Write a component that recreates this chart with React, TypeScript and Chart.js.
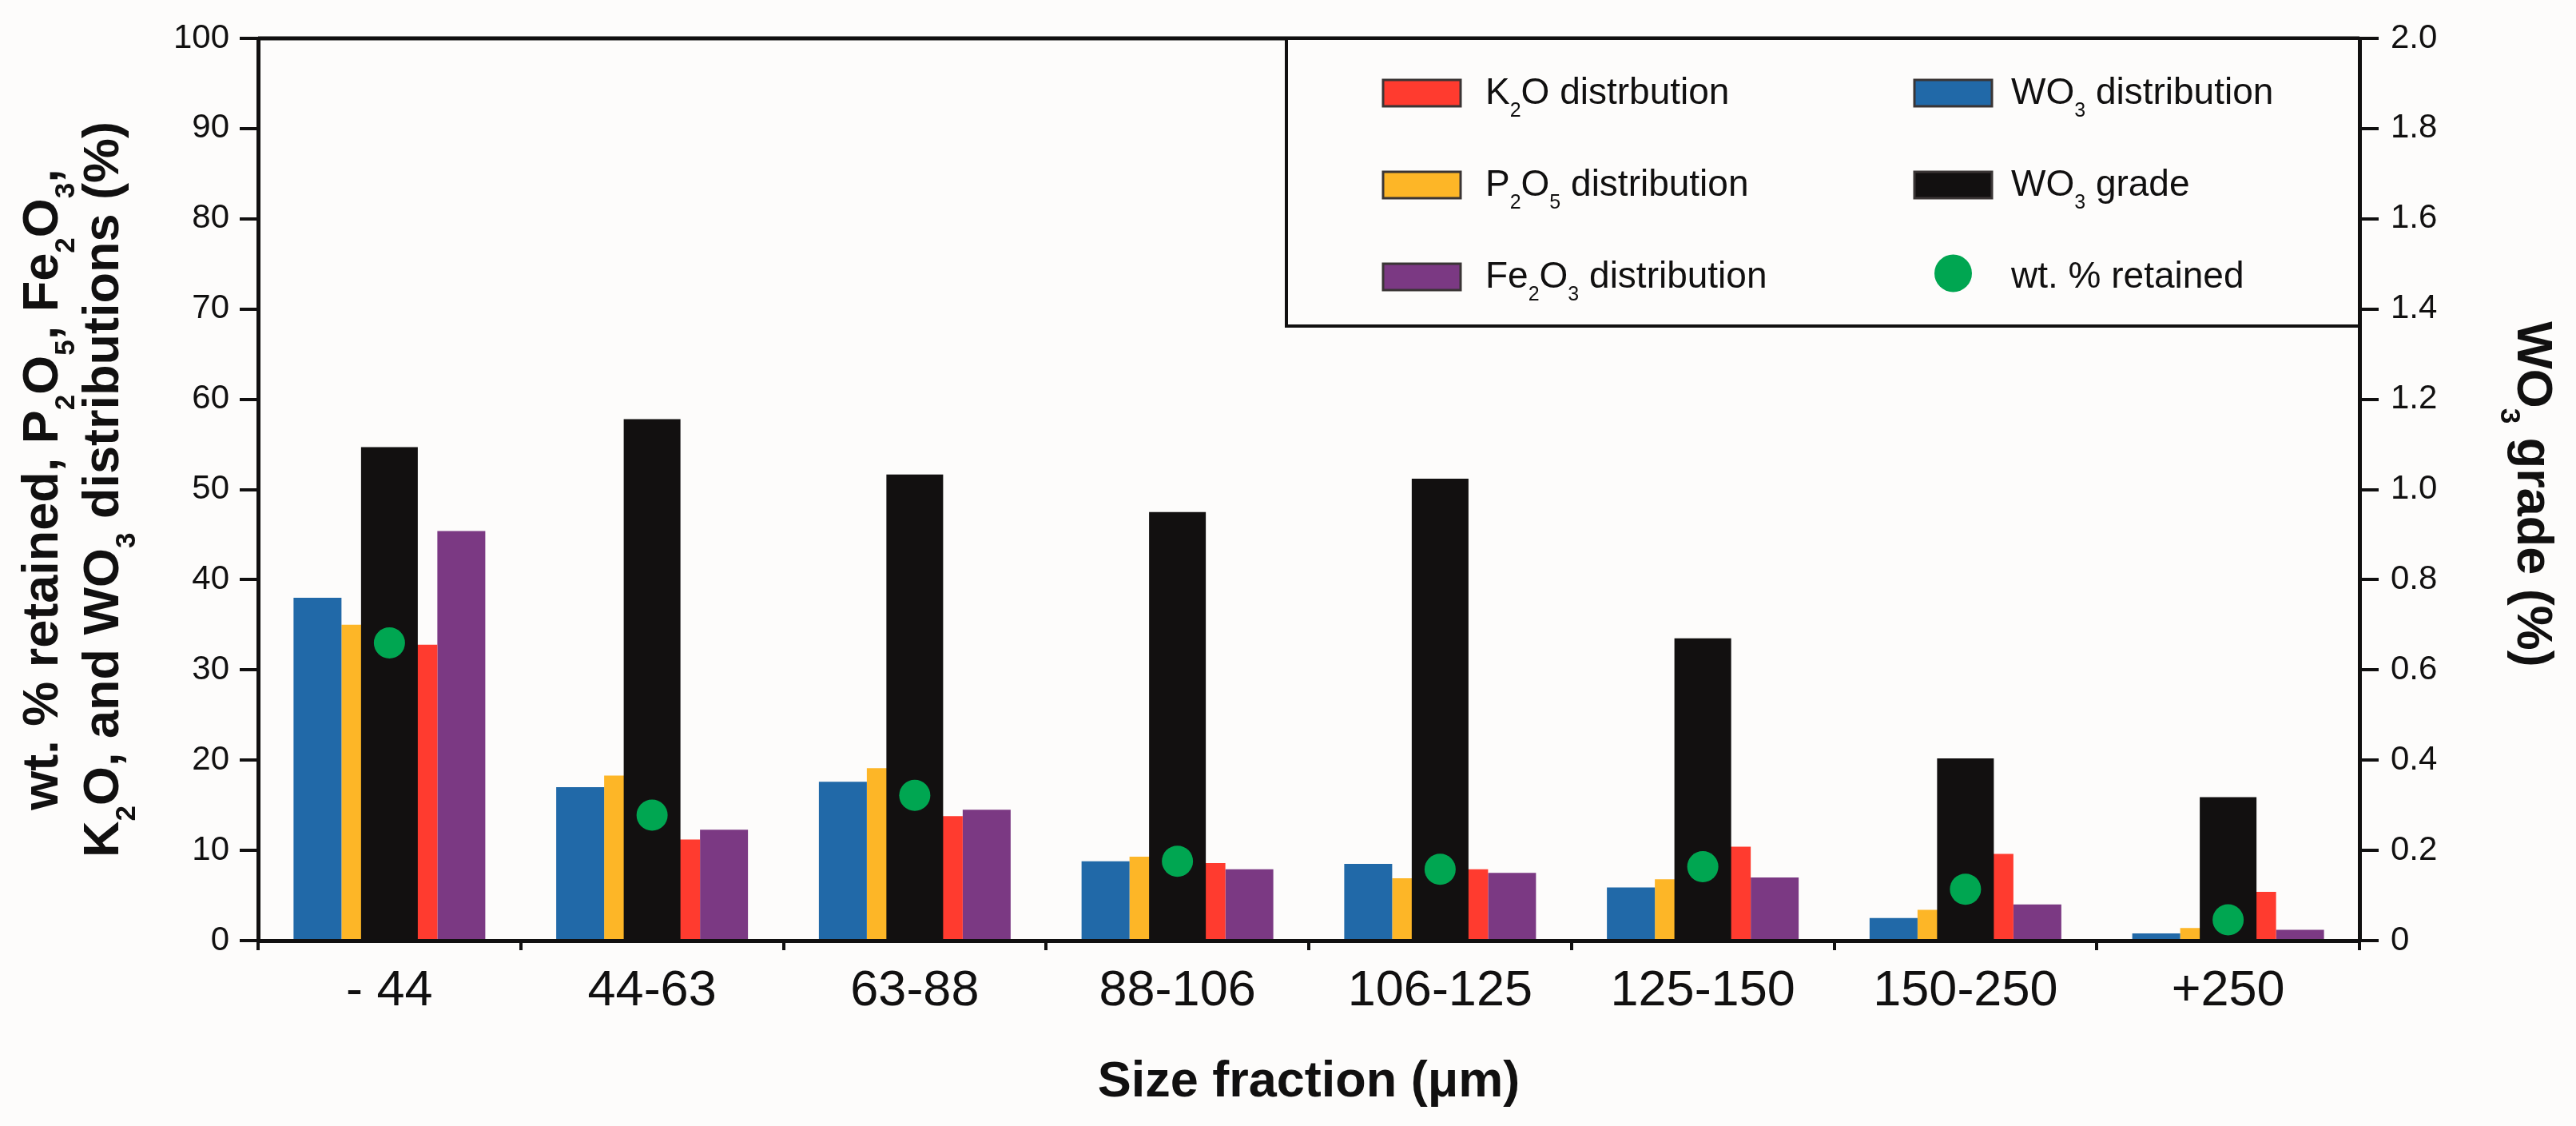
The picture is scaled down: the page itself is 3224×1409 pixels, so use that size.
import { useEffect, useRef } from 'react';
import { Chart, registerables } from 'chart.js';

Chart.register(...registerables);

// size fractions (µm) on the x axis
const sizeFractions = ['- 44', '44-63', '63-88', '88-106', '106-125', '125-150', '150-250', '+250'];

// left axis: distributions and wt. % retained (%)
const wo3Distribution = [38.0, 17.0, 17.6, 8.8, 8.5, 5.9, 2.5, 0.8];
const p2o5Distribution = [35.0, 18.3, 19.1, 9.3, 6.9, 6.8, 3.4, 1.4];
const k2oDistribution = [32.8, 11.2, 13.8, 8.6, 7.9, 10.4, 9.6, 5.4];
const fe2o3Distribution = [45.4, 12.3, 14.5, 7.9, 7.5, 7.0, 4.0, 1.2];
const wtRetained = [33.0, 13.9, 16.1, 8.8, 7.9, 8.2, 5.7, 2.3];

// right axis: WO3 grade (%)
const wo3Grade = [1.094, 1.156, 1.033, 0.95, 1.024, 0.67, 0.404, 0.318];

// labels, "_n" = subscript digit
const legendLabels = [
  'K_2O distrbution',
  'P_2O_5 distribution',
  'Fe_2O_3 distribution',
  'WO_3 distribution',
  'WO_3 grade',
  'wt. % retained',
];
const leftTitle = ['wt. % retained, P_2O_5, Fe_2O_3,', 'K_2O, and WO_3 distributions (%)'];
const rightTitle = 'WO_3 grade (%)';
const xTitle = 'Size fraction (\u03bcm)';

const FONT = "'Liberation Sans', Arial, Helvetica, sans-serif";
const INK = '#111010';
const BLUE = '#2169a8';
const YELLOW = '#fdb627';
const RED = '#ff3b2f';
const PURPLE = '#7b3983';
const BLACK = '#121010';
const GREEN = '#00a651';

type Seg = { t: string; sub: boolean };

const parse = (s: string): Seg[] => {
  const out: Seg[] = [];
  s.split(/(_\d)/).forEach((p) => {
    if (!p) return;
    if (p[0] === '_') out.push({ t: p.slice(1), sub: true });
    else out.push({ t: p, sub: false });
  });
  return out;
};

const segFont = (seg: Seg, size: number, weight: string) =>
  `${weight} ${seg.sub ? Math.round(size * 0.55) : size}px ${FONT}`;

const drawRich = (
  ctx: CanvasRenderingContext2D,
  text: string,
  x: number,
  y: number,
  size: number,
  weight: string,
  align: 'left' | 'center',
  rotation = 0
) => {
  const segs = parse(text);
  ctx.save();
  ctx.translate(x, y);
  ctx.rotate(rotation);
  ctx.textBaseline = 'alphabetic';
  ctx.textAlign = 'left';
  ctx.fillStyle = INK;
  let w = 0;
  segs.forEach((s) => {
    ctx.font = segFont(s, size, weight);
    w += ctx.measureText(s.t).width;
  });
  let cx = align === 'center' ? -w / 2 : 0;
  segs.forEach((s) => {
    ctx.font = segFont(s, size, weight);
    ctx.fillText(s.t, cx, s.sub ? size * 0.34 : 0);
    cx += ctx.measureText(s.t).width;
  });
  ctx.restore();
};

const decorPlugin = {
  id: 'decor',
  afterDraw(chart: Chart) {
    const { ctx, chartArea } = chart;
    const { left, right, top, bottom } = chartArea;
    const midY = (top + bottom) / 2;

    ctx.save();
    // top frame line
    ctx.strokeStyle = INK;
    ctx.lineWidth = 5;
    ctx.beginPath();
    ctx.moveTo(left, top);
    ctx.lineTo(right, top);
    ctx.stroke();

    // legend box
    const bx = right - 1343;
    const bh = 360;
    ctx.fillStyle = '#fdfcfb';
    ctx.fillRect(bx, top, right - bx, bh);
    ctx.lineWidth = 4;
    ctx.strokeRect(bx, top, right - bx, bh);

    const swatches = [RED, YELLOW, PURPLE, BLUE, BLACK, GREEN];
    legendLabels.forEach((label, i) => {
      const col = Math.floor(i / 3);
      const row = i % 3;
      const sx = bx + (col === 0 ? 121 : 786);
      const tx = bx + (col === 0 ? 249 : 907);
      const cy = top + 68 + row * 115;
      if (i === 5) {
        ctx.fillStyle = GREEN;
        ctx.beginPath();
        ctx.arc(sx + 48.5, cy - 4, 23.5, 0, Math.PI * 2);
        ctx.fill();
      } else {
        ctx.fillStyle = swatches[i];
        ctx.fillRect(sx, cy - 16, 97, 33);
        ctx.strokeStyle = '#3a3535';
        ctx.lineWidth = 3;
        ctx.strokeRect(sx, cy - 16, 97, 33);
      }
      drawRich(ctx, label, tx, cy + 14, 46, 'normal', 'left');
    });

    // axis titles
    drawRich(ctx, leftTitle[0], 72, midY, 63, 'bold', 'center', -Math.PI / 2);
    drawRich(ctx, leftTitle[1], 148, midY, 63, 'bold', 'center', -Math.PI / 2);
    drawRich(ctx, rightTitle, 3151, midY + 6, 63, 'bold', 'center', Math.PI / 2);
    drawRich(ctx, xTitle, (left + right) / 2, 1372, 63, 'bold', 'center');
    ctx.restore();
  },
};

const App = () => {
  const canvasRef = useRef<HTMLCanvasElement>(null);

  useEffect(() => {
    if (!canvasRef.current) return;
    const distBar = { yAxisID: 'y', barPercentage: 1, categoryPercentage: 0.73, order: 2 };
    const chart = new Chart(canvasRef.current, {
      type: 'bar',
      data: {
        labels: sizeFractions,
        datasets: [
          { ...distBar, label: 'WO3 distribution', data: wo3Distribution, backgroundColor: BLUE },
          { ...distBar, label: 'P2O5 distribution', data: p2o5Distribution, backgroundColor: YELLOW },
          { ...distBar, label: 'K2O distrbution', data: k2oDistribution, backgroundColor: RED },
          { ...distBar, label: 'Fe2O3 distribution', data: fe2o3Distribution, backgroundColor: PURPLE },
          {
            label: 'WO3 grade',
            data: wo3Grade,
            backgroundColor: BLACK,
            yAxisID: 'y1',
            grouped: false,
            barPercentage: 1,
            categoryPercentage: 0.216,
            order: 1,
          },
          {
            type: 'line',
            label: 'wt. % retained',
            data: wtRetained,
            yAxisID: 'y',
            showLine: false,
            pointRadius: 19.5,
            pointBackgroundColor: GREEN,
            pointBorderWidth: 0,
            order: 0,
          },
        ] as any,
      },
      options: {
        animation: false,
        responsive: true,
        maintainAspectRatio: false,
        layout: { padding: { top: 48, left: 0, right: 0, bottom: 0 } },
        plugins: {
          legend: { display: false },
          tooltip: { enabled: false },
        },
        scales: {
          x: {
            type: 'category',
            offset: true,
            grid: {
              offset: true,
              drawOnChartArea: false,
              drawTicks: true,
              tickLength: 12,
              color: INK,
              lineWidth: 4,
            },
            border: { display: true, color: INK, width: 5 },
            ticks: {
              color: INK,
              font: { family: FONT, size: 63 },
              padding: 14,
              autoSkip: false,
              maxRotation: 0,
              minRotation: 0,
            },
            afterFit: (s: any) => {
              s.height = 232;
            },
          },
          y: {
            position: 'left',
            min: 0,
            max: 100,
            ticks: {
              stepSize: 10,
              color: INK,
              font: { family: FONT, size: 42 },
              padding: 13,
            },
            grid: { drawOnChartArea: false, tickLength: 23, color: INK, lineWidth: 4 },
            border: { display: true, color: INK, width: 5 },
            afterFit: (s: any) => {
              s.width = 323;
            },
          },
          y1: {
            position: 'right',
            min: 0,
            max: 2,
            ticks: {
              stepSize: 0.2,
              color: INK,
              font: { family: FONT, size: 42 },
              padding: 15,
              callback: (v: any) => (Number(v) === 0 ? '0' : Number(v).toFixed(1)),
            },
            grid: { drawOnChartArea: false, tickLength: 24, color: INK, lineWidth: 4 },
            border: { display: true, color: INK, width: 5 },
            afterFit: (s: any) => {
              s.width = 271;
            },
          },
        },
      } as any,
      plugins: [decorPlugin],
    });

    return () => {
      chart.destroy();
    };
  }, []);

  return (
    <div style={{ position: 'fixed', inset: 0, background: '#fdfcfb' }}>
      <canvas ref={canvasRef} />
    </div>
  );
};

export default App;
